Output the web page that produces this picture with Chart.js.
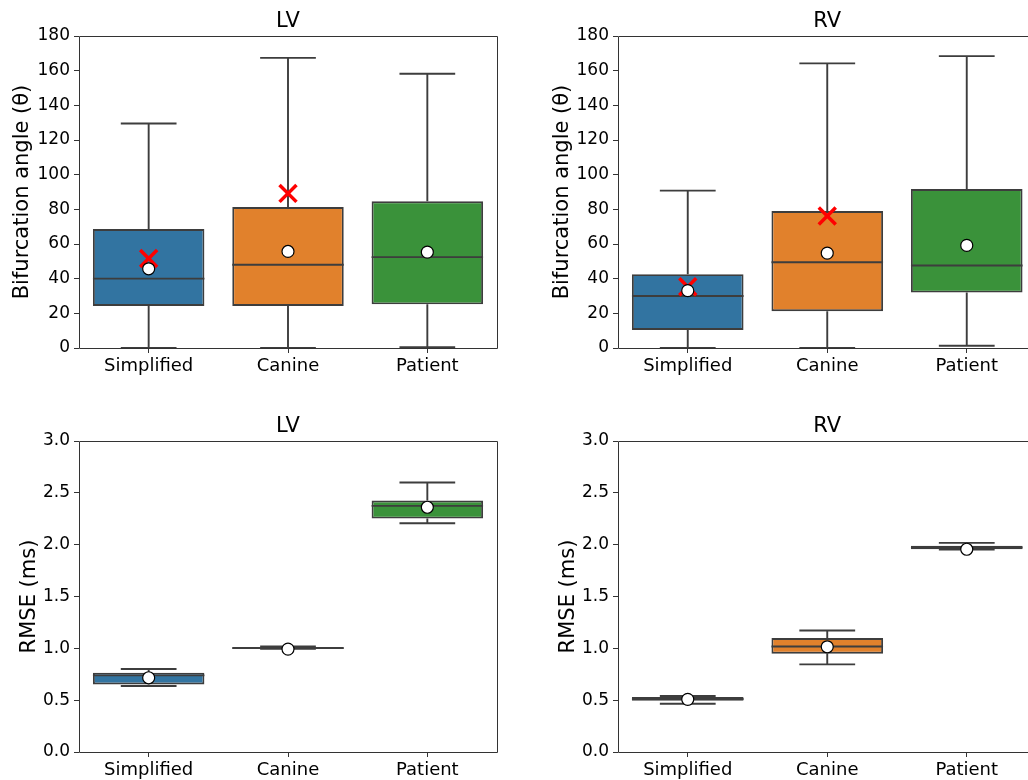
<!DOCTYPE html>
<html>
<head>
<meta charset="utf-8">
<script src="https://cdn.jsdelivr.net/npm/chart.js@4"></script>
<style>
  html, body { margin: 0; padding: 0; background: #fff; }
  #page { position: relative; width: 1028px; height: 780px; overflow: hidden; }
  .panel { position: absolute; overflow: hidden; }
  canvas { position: absolute; left: 0; top: 0; }
</style>
</head>
<body>
<div id="page">
  <div class="panel" style="left:0;top:0;width:514px;height:390px"><canvas id="lvAngle" width="514" height="390"></canvas></div>
  <div class="panel" style="left:514px;top:0;width:514px;height:390px"><canvas id="rvAngle" width="540" height="390"></canvas></div>
  <div class="panel" style="left:0;top:390px;width:514px;height:390px"><canvas id="lvRmse" width="514" height="404"></canvas></div>
  <div class="panel" style="left:514px;top:390px;width:514px;height:390px"><canvas id="rvRmse" width="540" height="404"></canvas></div>
</div>
<script>
const categories = ['Simplified', 'Canine', 'Patient'];
const boxColors = ['#3274a1', '#e1812c', '#3a923a'];
const angleTicks = [0, 20, 40, 60, 80, 100, 120, 140, 160, 180];
const rmseTicks = [0, 0.5, 1, 1.5, 2, 2.5, 3];

// bifurcation angle, LV
const lvAngleMin = [0, 0, 0.4];
const lvAngleQ1 = [24.3, 24.3, 25.2];
const lvAngleMedian = [40, 48, 52.4];
const lvAngleQ3 = [68.6, 81.3, 84.6];
const lvAngleMax = [129.5, 167.4, 158.2];
const lvAngleMean = [45.7, 55.7, 55.3];
const lvAngleCross = [51.6, 89.2, null];

// bifurcation angle, RV
const rvAngleMin = [0, 0, 1.3];
const rvAngleQ1 = [10.4, 21.2, 32];
const rvAngleMedian = [30, 49.5, 47.6];
const rvAngleQ3 = [42.6, 79, 91.7];
const rvAngleMax = [90.8, 164.2, 168.4];
const rvAngleMean = [33.1, 54.7, 59.2];
const rvAngleCross = [35.3, 76.1, null];

// RMSE, LV
const lvRmseMin = [0.636, 0.995, 2.207];
const lvRmseQ1 = [0.652, 0.997, 2.252];
const lvRmseMedian = [0.739, 1.003, 2.374];
const lvRmseQ3 = [0.765, 1.008, 2.425];
const lvRmseMax = [0.80, 1.018, 2.599];
const lvRmseMean = [0.716, 0.993, 2.361];

// RMSE, RV
const rvRmseMin = [0.466, 0.845, 1.953];
const rvRmseQ1 = [0.495, 0.948, 1.955];
const rvRmseMedian = [0.511, 1.018, 1.972];
const rvRmseQ3 = [0.53, 1.099, 1.99];
const rvRmseMax = [0.54, 1.172, 2.017];
const rvRmseMean = [0.508, 1.015, 1.956];

const lineColor = '#3d3d3d';
const fontFamily = '"DejaVu Sans", sans-serif';

// whiskers, caps and medians drawn right after the boxes, plus the frame
const boxLines = {
  id: 'boxLines',
  afterDatasetDraw(chart, args) {
    if (args.index !== 0) return;
    const ds = chart.data.datasets[0];
    const x = chart.scales.x, y = chart.scales.y;
    const meta = chart.getDatasetMeta(0);
    const ctx = chart.ctx;
    ctx.save();
    ctx.strokeStyle = lineColor;
    ctx.lineWidth = 1.9;
    ctx.lineCap = 'butt';
    for (let i = 0; i < categories.length; i++) {
      const cx = x.getPixelForValue(i);
      const w = meta.data[i].width;
      const yLo = y.getPixelForValue(ds.whiskerLow[i]);
      const yHi = y.getPixelForValue(ds.whiskerHigh[i]);
      const yQ1 = y.getPixelForValue(ds.data[i][0]);
      const yQ3 = y.getPixelForValue(ds.data[i][1]);
      const yMed = y.getPixelForValue(ds.median[i]);
      ctx.beginPath();
      ctx.moveTo(cx, yQ3); ctx.lineTo(cx, yHi);
      ctx.moveTo(cx, yQ1); ctx.lineTo(cx, yLo);
      ctx.moveTo(cx - w / 4, yHi); ctx.lineTo(cx + w / 4, yHi);
      ctx.moveTo(cx - w / 4, yLo); ctx.lineTo(cx + w / 4, yLo);
      ctx.moveTo(cx - w / 2, yMed); ctx.lineTo(cx + w / 2, yMed);
      ctx.stroke();
    }
    ctx.restore();
  },
  afterDraw(chart) {
    const a = chart.chartArea;
    const ctx = chart.ctx;
    const l = Math.round(a.left) + 0.5, t = Math.round(a.top) + 0.5;
    const r = Math.round(a.right) + 0.5, b = Math.round(a.bottom) + 0.5;
    ctx.save();
    ctx.strokeStyle = '#333';
    ctx.lineWidth = 1;
    ctx.beginPath();
    ctx.moveTo(r, t); ctx.lineTo(l, t); ctx.lineTo(l, b); ctx.lineTo(r, b);
    if (r < 514) { ctx.lineTo(r, t); }
    ctx.stroke();
    ctx.restore();
  }
};

function makeChart(id, cfg) {
  const datasets = [{
    type: 'bar',
    data: cfg.q1.map((q, i) => [q, cfg.q3[i]]),
    median: cfg.median,
    whiskerLow: cfg.min,
    whiskerHigh: cfg.max,
    backgroundColor: boxColors,
    borderColor: lineColor,
    borderWidth: 1.9,
    borderSkipped: false,
    categoryPercentage: 0.8,
    barPercentage: 1.0,
    order: 3
  }];
  if (cfg.cross) {
    datasets.push({
      type: 'line',
      data: cfg.cross,
      showLine: false,
      pointStyle: 'crossRot',
      pointRadius: 12,
      pointBorderColor: '#ff0000',
      pointBorderWidth: 3.5,
      order: 1
    });
  }
  datasets.push({
    type: 'line',
    data: cfg.mean,
    showLine: false,
    pointStyle: 'circle',
    pointRadius: 6,
    pointBackgroundColor: '#ffffff',
    pointBorderColor: '#000000',
    pointBorderWidth: 1.2,
    order: 0
  });

  return new Chart(document.getElementById(id), {
    type: 'bar',
    data: { labels: categories, datasets: datasets },
    plugins: [boxLines],
    options: {
      responsive: false,
      animation: false,
      events: [],
      layout: { padding: { top: cfg.padTop, right: cfg.padRight, left: 0, bottom: 0 } },
      plugins: {
        legend: { display: false },
        tooltip: { enabled: false },
        title: {
          display: true,
          fullSize: false,
          text: cfg.title,
          color: '#000',
          font: { family: fontFamily, size: 21, weight: 'normal', lineHeight: 1.2 },
          padding: { top: 9, bottom: 1.8 }
        }
      },
      scales: {
        x: {
          offset: true,
          afterFit: s => { s.height = 42; },
          grid: { display: true, drawOnChartArea: false, drawTicks: true, offset: false, tickLength: 5, tickColor: '#333' },
          border: { display: false },
          ticks: { color: '#000', padding: 3, font: { family: fontFamily, size: 18 } }
        },
        y: {
          min: cfg.ticks[0],
          max: cfg.ticks[cfg.ticks.length - 1],
          afterFit: s => { s.width = cfg.yWidth; },
          afterBuildTicks: s => { s.ticks = cfg.ticks.map(v => ({ value: v })); },
          grid: { display: true, drawOnChartArea: false, drawTicks: true, tickLength: 5, tickColor: '#333' },
          border: { display: false },
          ticks: {
            color: '#000',
            padding: 4,
            font: { family: fontFamily, size: 17 },
            callback: cfg.fmt
          },
          title: {
            display: true,
            text: cfg.yTitle,
            color: '#000',
            font: { family: fontFamily, size: 21, lineHeight: 1.2 },
            padding: { top: cfg.yTitlePad, bottom: 0 }
          }
        }
      }
    }
  });
}

makeChart('lvAngle', {
  title: 'LV', yTitle: 'Bifurcation angle (θ)', ticks: angleTicks, fmt: v => String(v),
  min: lvAngleMin, q1: lvAngleQ1, median: lvAngleMedian, q3: lvAngleQ3, max: lvAngleMax,
  mean: lvAngleMean, cross: lvAngleCross,
  padTop: 0, padRight: 17, yWidth: 79, yTitlePad: 10
});
makeChart('rvAngle', {
  title: 'RV', yTitle: 'Bifurcation angle (θ)', ticks: angleTicks, fmt: v => String(v),
  min: rvAngleMin, q1: rvAngleQ1, median: rvAngleMedian, q3: rvAngleQ3, max: rvAngleMax,
  mean: rvAngleMean, cross: rvAngleCross,
  padTop: 0, padRight: 17.5, yWidth: 104, yTitlePad: 35.5
});
makeChart('lvRmse', {
  title: 'LV', yTitle: 'RMSE (ms)', ticks: rmseTicks, fmt: v => Number(v).toFixed(1),
  min: lvRmseMin, q1: lvRmseQ1, median: lvRmseMedian, q3: lvRmseQ3, max: lvRmseMax,
  mean: lvRmseMean, cross: null,
  padTop: 15, padRight: 17, yWidth: 79, yTitlePad: 16.5
});
makeChart('rvRmse', {
  title: 'RV', yTitle: 'RMSE (ms)', ticks: rmseTicks, fmt: v => Number(v).toFixed(1),
  min: rvRmseMin, q1: rvRmseQ1, median: rvRmseMedian, q3: rvRmseQ3, max: rvRmseMax,
  mean: rvRmseMean, cross: null,
  padTop: 15, padRight: 17.5, yWidth: 104, yTitlePad: 41.5
});
</script>
</body>
</html>
